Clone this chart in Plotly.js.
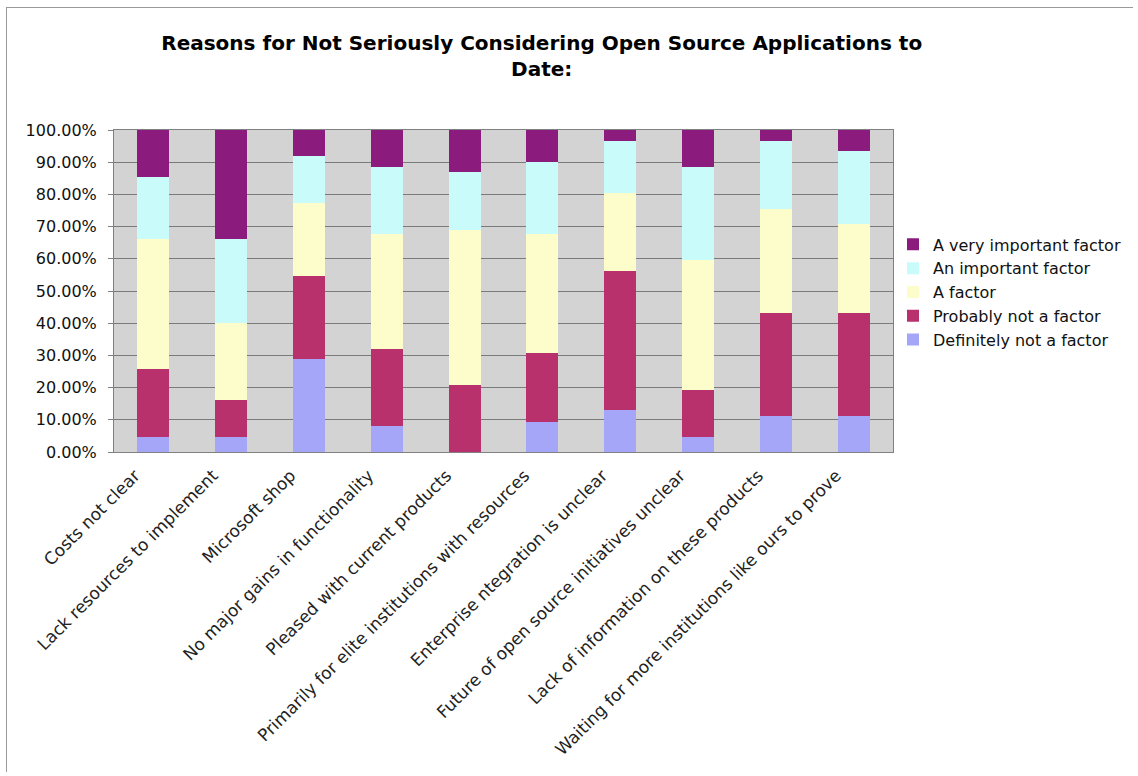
<!DOCTYPE html>
<html>
<head>
<meta charset="utf-8">
<script src="https://cdn.plot.ly/plotly-3.0.1.min.js"></script>
<style>
  html, body { margin: 0; padding: 0; background: #ffffff; }
  #frame { position: absolute; left: 6px; top: 7px; width: 1126px; height: 764px;
           border-left: 1px solid #9a9a9a; border-top: 1px solid #9a9a9a; }
  #chart { position: absolute; left: 0; top: 0; width: 1138px; height: 776px; }
</style>
</head>
<body>
<div id="frame"></div>
<div id="chart"></div>
<script>
// Survey reasons (x categories)
const reasons = [
  "Costs not clear",
  "Lack resources to implement",
  "Microsoft shop",
  "No major gains in functionality",
  "Pleased with current products",
  "Primarily for elite institutions with resources",
  "Enterprise ntegration is unclear",
  "Future of open source initiatives unclear",
  "Lack of information on these products",
  "Waiting for more institutions like ours to prove"
];

// Share of responses per rating (fractions of 1)
const definitelyNot = [0.047, 0.047, 0.290, 0.080, 0.000, 0.093, 0.130, 0.047, 0.112, 0.112];
const probablyNot   = [0.212, 0.114, 0.256, 0.241, 0.209, 0.213, 0.432, 0.145, 0.321, 0.321];
const aFactor       = [0.402, 0.241, 0.226, 0.355, 0.482, 0.370, 0.241, 0.404, 0.323, 0.275];
const important     = [0.194, 0.259, 0.147, 0.210, 0.179, 0.226, 0.164, 0.290, 0.211, 0.227];
const veryImportant = [0.145, 0.339, 0.081, 0.114, 0.130, 0.098, 0.033, 0.114, 0.033, 0.065];

const seriesNames = [
  "Definitely not a factor",
  "Probably not a factor",
  "A factor",
  "An important factor",
  "A very important factor"
];
const seriesValues = [definitelyNot, probablyNot, aFactor, important, veryImportant];
const seriesColors = ["#a6a6f8", "#b8316c", "#fdfdcc", "#c9fbfb", "#8b1b7c"];

const traces = seriesNames.map((name, i) => ({
  type: "bar",
  name: name,
  x: reasons,
  y: seriesValues[i],
  marker: { color: seriesColors[i], line: { width: 0 } },
  hoverinfo: "x+y+name"
}));

const layout = {
  width: 1138,
  height: 776,
  barmode: "stack",
  bargap: 0.59,
  paper_bgcolor: "rgba(0,0,0,0)",
  plot_bgcolor: "#d3d3d3",
  margin: { l: 114, r: 243, t: 130, b: 324, pad: 0 },
  font: { family: "DejaVu Sans, Verdana, sans-serif", size: 16, color: "#111111" },
  title: {
    text: "<b>Reasons for Not Seriously Considering Open Source Applications to<br>Date:</b>",
    font: { family: "DejaVu Sans, Verdana, sans-serif", size: 20, color: "#000000" },
    xref: "container", x: 0.476, xanchor: "center",
    yref: "container", y: 0.935, yanchor: "top"
  },
  xaxis: {
    type: "category",
    tickangle: -45,
    showgrid: false,
    showline: true,
    linecolor: "#808080",
    linewidth: 1,
    ticks: "",
    tickfont: { size: 17, color: "#222222" },
    ticklabelshift: -18,
    ticklabelstandoff: 6,
    mirror: true
  },
  yaxis: {
    range: [0, 1],
    tickvals: [0, 0.1, 0.2, 0.3, 0.4, 0.5, 0.6, 0.7, 0.8, 0.9, 1.0],
    tickformat: ".2%",
    showgrid: true,
    gridcolor: "#7a7a7a",
    gridwidth: 1,
    showline: true,
    linecolor: "#808080",
    linewidth: 1,
    mirror: true,
    ticks: "outside",
    ticklen: 5,
    tickcolor: "#808080",
    ticklabelstandoff: 8,
    zeroline: false,
    tickfont: { size: 16 }
  },
  legend: {
    traceorder: "reversed",
    x: 1.0, xanchor: "left",
    y: 0.497, yanchor: "middle",
    bgcolor: "rgba(0,0,0,0)",
    font: { size: 16 },
    itemclick: false
  },
  showlegend: true
};

Plotly.newPlot("chart", traces, layout, { displayModeBar: false, staticPlot: true });
</script>
</body>
</html>
